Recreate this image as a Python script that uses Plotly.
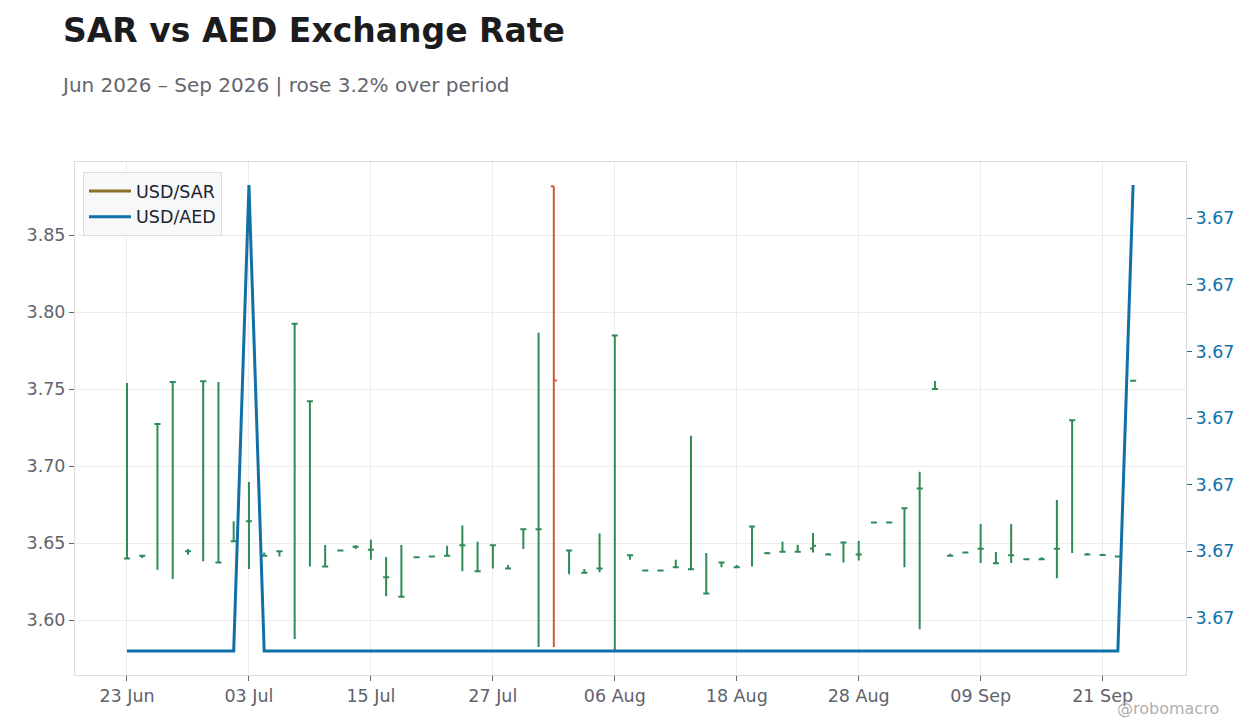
import pandas as pd
import plotly.graph_objects as go

# business days, 23 Jun 2026 -> 23 Sep 2026
dates = pd.bdate_range("2026-06-23", periods=67)
days = [d.strftime("%Y-%m-%d") for d in dates]

sar_open = [3.6400, 3.6418, 3.7273, 3.7545, 3.6446, 3.7550, 3.6374, 3.6511, 3.6641, 3.6418,
            3.6446, 3.7924, 3.7420, 3.6348, 3.6452, 3.6476, 3.6457, 3.6277, 3.6151, 3.6407,
            3.6413, 3.6418, 3.6485, 3.6316, 3.6485, 3.6335, 3.6589, 3.6589, 3.8816, 3.6452,
            3.6307, 3.6335, 3.7848, 3.6420, 3.6322, 3.6322, 3.6342, 3.6329, 3.6172, 3.6374,
            3.6342, 3.6608, 3.6433, 3.6444, 3.6444, 3.6465, 3.6426, 3.6504, 3.6426, 3.6634,
            3.6634, 3.6725, 3.6854, 3.7500, 3.6418, 3.6439, 3.6463, 3.6368, 3.6420, 3.6394,
            3.6394, 3.6463, 3.7297, 3.6426, 3.6422, 3.6413, 3.7554]
sar_high = [3.7539, 3.6418, 3.7273, 3.7545, 3.6461, 3.7550, 3.7545, 3.6641, 3.6896, 3.6439,
            3.6446, 3.7924, 3.7420, 3.6487, 3.6453, 3.6485, 3.6522, 3.6409, 3.6487, 3.6408,
            3.6414, 3.6483, 3.6613, 3.6509, 3.6485, 3.6357, 3.6589, 3.7866, 3.8816, 3.6452,
            3.6331, 3.6561, 3.7848, 3.6420, 3.6323, 3.6323, 3.6392, 3.7197, 3.6435, 3.6374,
            3.6357, 3.6608, 3.6442, 3.6509, 3.6489, 3.6565, 3.6435, 3.6504, 3.6513, 3.6635,
            3.6640, 3.6725, 3.6962, 3.7552, 3.6431, 3.6440, 3.6623, 3.6442, 3.6623, 3.6395,
            3.6407, 3.6779, 3.7297, 3.6435, 3.6431, 3.6414, 3.7555]
sar_low = [3.6400, 3.6403, 3.6327, 3.6266, 3.6424, 3.6381, 3.6374, 3.6511, 3.6331, 3.6412,
           3.6413, 3.5877, 3.6348, 3.6348, 3.6451, 3.6461, 3.6392, 3.6154, 3.6151, 3.6406,
           3.6412, 3.6418, 3.6316, 3.6316, 3.6335, 3.6335, 3.6461, 3.5825, 3.5825, 3.6297,
           3.6307, 3.6310, 3.5805, 3.6392, 3.6321, 3.6321, 3.6342, 3.6329, 3.6172, 3.6342,
           3.6342, 3.6348, 3.6433, 3.6444, 3.6444, 3.6439, 3.6426, 3.6374, 3.6387, 3.6633,
           3.6634, 3.6343, 3.5940, 3.7500, 3.6418, 3.6438, 3.6370, 3.6368, 3.6370, 3.6393,
           3.6394, 3.6271, 3.6435, 3.6426, 3.6422, 3.6412, 3.7553]
sar_close = [3.6400, 3.6418, 3.7273, 3.7545, 3.6446, 3.7550, 3.6374, 3.6511, 3.6641, 3.6418,
             3.6446, 3.7924, 3.7420, 3.6348, 3.6452, 3.6476, 3.6457, 3.6277, 3.6151, 3.6407,
             3.6413, 3.6418, 3.6485, 3.6316, 3.6485, 3.6335, 3.6589, 3.6589, 3.7556, 3.6452,
             3.6307, 3.6335, 3.7848, 3.6420, 3.6322, 3.6322, 3.6342, 3.6329, 3.6172, 3.6374,
             3.6342, 3.6608, 3.6433, 3.6444, 3.6444, 3.6483, 3.6426, 3.6504, 3.6426, 3.6634,
             3.6634, 3.6725, 3.6854, 3.7500, 3.6418, 3.6439, 3.6463, 3.6368, 3.6420, 3.6394,
             3.6394, 3.6463, 3.7297, 3.6426, 3.6422, 3.6413, 3.7554]

aed_close = [3.67245, 3.67245, 3.67245, 3.67245, 3.67245, 3.67245, 3.67245, 3.67245, 3.67315, 3.67245,
             3.67245, 3.67245, 3.67245, 3.67245, 3.67245, 3.67245, 3.67245, 3.67245, 3.67245, 3.67245,
             3.67245, 3.67245, 3.67245, 3.67245, 3.67245, 3.67245, 3.67245, 3.67245, 3.67245, 3.67245,
             3.67245, 3.67245, 3.67245, 3.67245, 3.67245, 3.67245, 3.67245, 3.67245, 3.67245, 3.67245,
             3.67245, 3.67245, 3.67245, 3.67245, 3.67245, 3.67245, 3.67245, 3.67245, 3.67245, 3.67245,
             3.67245, 3.67245, 3.67245, 3.67245, 3.67245, 3.67245, 3.67245, 3.67245, 3.67245, 3.67245,
             3.67245, 3.67245, 3.67245, 3.67245, 3.67245, 3.67245, 3.67315]

tick_days = days[::8]
tick_text = [d.strftime("%d %b") for d in dates[::8]]

GREEN = "#2e8b57"
RED = "#cd5a41"
BLUE = "#1170a8"
OLIVE = "#8b7226"
FONT = "DejaVu Sans"


def split(vals, keep):
    return [v if k else None for v, k in zip(vals, keep)]


up = [c >= o for o, c in zip(sar_open, sar_close)]
down = [not u for u in up]

fig = go.Figure()

# legend-only entry for the SAR series
fig.add_trace(go.Scatter(x=[None], y=[None], mode="lines", name="USD/SAR",
                         line=dict(color=OLIVE, width=3)))

for keep, col in [(up, GREEN), (down, RED)]:
    fig.add_trace(go.Ohlc(x=days,
                          open=split(sar_open, keep), high=split(sar_high, keep),
                          low=split(sar_low, keep), close=split(sar_close, keep),
                          increasing=dict(line=dict(color=col, width=2)),
                          decreasing=dict(line=dict(color=col, width=2)),
                          tickwidth=0.2, showlegend=False, hoverinfo="skip"))

fig.add_trace(go.Scatter(x=days, y=aed_close, mode="lines", name="USD/AED",
                         line=dict(color=BLUE, width=3), yaxis="y2"))

fig.update_layout(
    width=1260, height=728,
    margin=dict(l=67, r=82, t=154, b=61),
    paper_bgcolor="white", plot_bgcolor="white",
    font=dict(family=FONT, size=17.5, color="#5f636b"),
    title=dict(text="<b>SAR vs AED Exchange Rate</b>", x=0.0437, xanchor="left",
               y=0.9698, yanchor="middle",
               font=dict(family=FONT, size=33, color="#1c1c1f")),
    showlegend=True,
    legend=dict(x=0.0072, y=0.9805, xanchor="left", yanchor="top", itemwidth=42,
                bgcolor="rgba(246,248,250,0.95)", bordercolor="#dcdcdc", borderwidth=1,
                font=dict(family=FONT, size=17.5, color="#1c2430")),
    xaxis=dict(type="category", range=[-3.41, 69.47],
               tickmode="array", tickvals=tick_days, ticktext=tick_text,
               showgrid=True, gridcolor="#ececec",
               showline=True, linecolor="#dcdcdc", mirror=True,
               ticks="outside", ticklen=5, tickcolor="#5f636b",
               rangeslider=dict(visible=False)),
    yaxis=dict(range=[3.5643, 3.8974], dtick=0.05, tickformat=".2f",
               showgrid=True, gridcolor="#ececec", zeroline=False,
               showline=True, linecolor="#dcdcdc", mirror=True,
               ticks="outside", ticklen=5, tickcolor="#5f636b"),
    yaxis2=dict(overlaying="y", side="right",
                range=[3.672414, 3.6731845], dtick=0.0001, tickformat=".2f",
                showgrid=False, zeroline=False,
                ticks="outside", ticklen=5, tickcolor=BLUE,
                tickfont=dict(color=BLUE)),
    annotations=[
        dict(text="Jun 2026 – Sep 2026 | rose 3.2% over period",
             xref="paper", yref="paper", x=-0.0144, y=1.150,
             xanchor="left", yanchor="middle", showarrow=False,
             font=dict(family=FONT, size=20, color="#63666e")),
        dict(text="@robomacro", xref="paper", yref="paper", x=1.0315, y=-0.066,
             xanchor="right", yanchor="middle", showarrow=False,
             font=dict(family=FONT, size=16, color="#b0b0b0")),
    ],
)

fig.write_html("out.html")
